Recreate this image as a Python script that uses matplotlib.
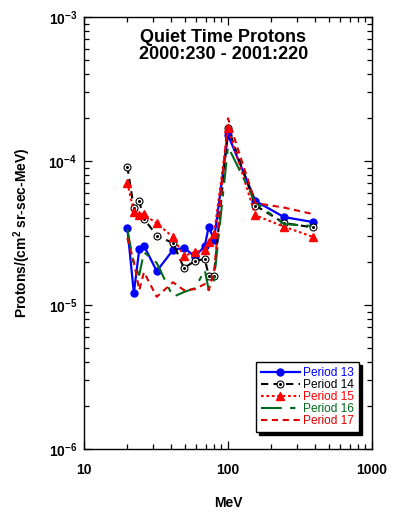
import matplotlib
matplotlib.use('Agg')
import matplotlib.pyplot as plt
from matplotlib.legend_handler import HandlerTuple
from matplotlib.ticker import FixedLocator, LogLocator, NullFormatter

plt.rcParams['font.family'] = ['Liberation Sans', 'DejaVu Sans']
plt.rcParams['mathtext.fontset'] = 'custom'
plt.rcParams['mathtext.rm'] = 'Liberation Sans'
plt.rcParams['mathtext.bf'] = 'Liberation Sans:bold'

# energy bins (MeV)
energy = [20.0, 22.2, 24.2, 26.1, 32.0, 41.5, 49.4, 59.0, 69.0, 73.5, 80.0, 100.0, 155.0, 245.0, 390.0]

period13 = [3.42e-5, 1.21e-5, 2.44e-5, 2.58e-5, 1.72e-5, 2.41e-5, 2.50e-5, 2.17e-5, 2.57e-5, 3.51e-5, 2.83e-5, 1.52e-4, 5.28e-5, 4.08e-5, 3.77e-5]
period14 = [9.16e-5, 4.72e-5, 5.25e-5, 3.97e-5, 3.04e-5, 2.69e-5, 1.81e-5, 2.02e-5, 2.09e-5, 1.60e-5, 1.58e-5, 1.70e-4, 4.91e-5, 3.71e-5, 3.46e-5]
period15 = [7.07e-5, 4.44e-5, 4.22e-5, 4.26e-5, 3.69e-5, 2.97e-5, 2.19e-5, 2.34e-5, 2.41e-5, 2.75e-5, 3.11e-5, 1.69e-4, 4.20e-5, 3.50e-5, 2.97e-5]
period16 = [3.37e-5, 1.90e-5, 1.62e-5, 2.33e-5, 1.96e-5, 1.14e-5, 1.23e-5, 1.31e-5, 1.75e-5, 1.27e-5, 1.49e-5, 1.26e-4, 5.15e-5, 3.65e-5, 3.54e-5]
period17 = [2.92e-5, 1.99e-5, 1.27e-5, 1.69e-5, 1.14e-5, 1.44e-5, 1.27e-5, 1.29e-5, 1.40e-5, 1.27e-5, 1.69e-5, 1.98e-4, 5.11e-5, 4.75e-5, 4.28e-5]

labels = ['Period 13', 'Period 14', 'Period 15', 'Period 16', 'Period 17']
colors = ['#0000ff', '#000000', '#ff0000', '#006a1a', '#dd0000']

xticks = [10, 100, 1000]
xticklabels = ['10', '100', '1000']
yticks = [1e-6, 1e-5, 1e-4, 1e-3]
yticklabels = [r'$\mathbf{10^{-6}}$', r'$\mathbf{10^{-5}}$', r'$\mathbf{10^{-4}}$', r'$\mathbf{10^{-3}}$']

fig = plt.figure(figsize=(3.93, 5.15), dpi=100)
ax = fig.add_axes([0.2137, 0.128, 0.7329, 0.839])

l13, = ax.plot(energy, period13, color=colors[0], lw=1.6, marker='o', ms=5, mec=colors[0])
l14, = ax.plot(energy, period14, color=colors[1], lw=1.5, dashes=(3.5, 2.5), marker='o', ms=5,
               mfc='white', mec='black', mew=0.8)
# little dot in the middle of the open circles
d14, = ax.plot(energy, period14, ls='none', marker='o', ms=1.2, color='black')
l15, = ax.plot(energy, period15, color=colors[2], lw=1.5, dashes=(1.3, 1.3), marker='^', ms=6, mec=colors[2])
l16, = ax.plot(energy, period16, color=colors[3], lw=1.5, dashes=(10, 4, 2.5, 4))
l17, = ax.plot(energy, period17, color=colors[4], lw=1.5, dashes=(3, 2.2))

ax.set_xscale('log')
ax.set_yscale('log')
ax.set_xlim(10, 1000)
ax.set_ylim(1e-6, 1e-3)

ax.xaxis.set_major_locator(FixedLocator(xticks))
ax.set_xticklabels(xticklabels, fontweight='bold', fontsize=10)
ax.yaxis.set_major_locator(FixedLocator(yticks))
ax.set_yticklabels(yticklabels, fontsize=10)
ax.xaxis.set_minor_locator(LogLocator(base=10, subs=range(2, 10)))
ax.yaxis.set_minor_locator(LogLocator(base=10, subs=range(2, 10)))
ax.xaxis.set_minor_formatter(NullFormatter())
ax.yaxis.set_minor_formatter(NullFormatter())

ax.tick_params(which='both', direction='in', top=True, right=True, width=0.9)
ax.tick_params(which='major', length=6)
ax.tick_params(which='minor', length=3.5)
ax.tick_params(axis='x', which='major', pad=10)
ax.tick_params(axis='y', which='major', pad=5)
for s in ax.spines.values():
    s.set_linewidth(1.0)

ax.set_xlabel('MeV', fontweight='bold', fontsize=10, labelpad=14)
ax.set_ylabel(r'Protons/(cm$^\mathbf{2}$ sr-sec-MeV)', fontweight='bold', fontsize=10, labelpad=11)

ax.text(0.484, 0.972, 'Quiet Time Protons\n2000:230 - 2001:220', transform=ax.transAxes,
        ha='center', va='top', fontsize=13, fontweight='bold', linespacing=1.0)

leg = ax.legend([l13, (l14, d14), l15, l16, l17], labels,
                handler_map={tuple: HandlerTuple(ndivide=1, pad=0)},
                loc='lower right', bbox_to_anchor=(0.954, 0.04), fontsize=8.6,
                numpoints=1, handlelength=3.3, handletextpad=0.25, labelspacing=0.0,
                borderpad=0.4, borderaxespad=0, fancybox=False,
                shadow={'color': 'black', 'alpha': 1})
leg.get_frame().set_edgecolor('black')
leg.get_frame().set_linewidth(1.0)
for txt, c in zip(leg.get_texts(), colors):
    txt.set_color(c)

fig.savefig('out.png', dpi=100)
